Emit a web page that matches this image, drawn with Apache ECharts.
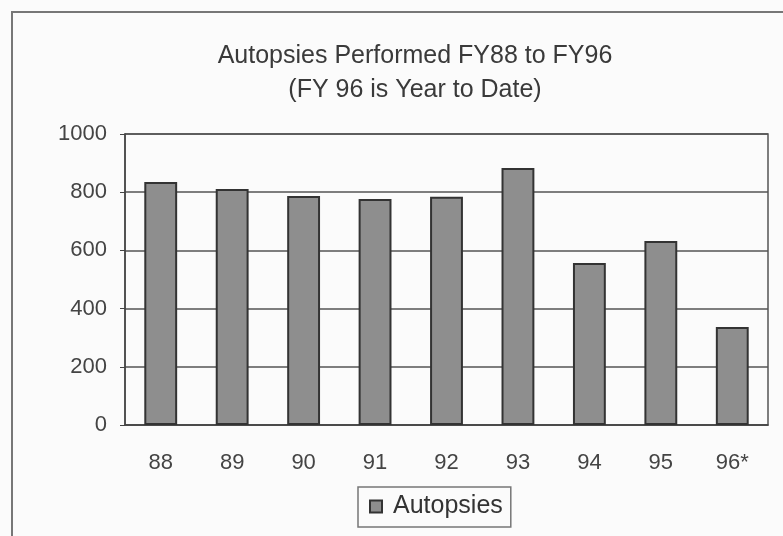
<!DOCTYPE html>
<html>
<head>
<meta charset="utf-8">
<script src="https://cdn.jsdelivr.net/npm/echarts@6/dist/echarts.min.js"></script>
<style>
  html, body { margin: 0; padding: 0; background: #fbfbfb; }
  #main { width: 783px; height: 536px; }
</style>
</head>
<body>
<div id="main"></div>
<script>
const years = ["88", "89", "90", "91", "92", "93", "94", "95", "96*"];
const autopsies = [835, 811, 787, 777, 784, 883, 557, 632, 337];
const yTicks = [0, 200, 400, 600, 800, 1000];

const chart = echarts.init(document.getElementById("main"));
const font = "'Liberation Sans', Arial, sans-serif";

const option = {
  backgroundColor: "#fbfbfb",
  animation: false,
  title: {
    text: "Autopsies Performed FY88 to FY96\n(FY 96 is Year to Date)",
    left: 410,
    top: 34,
    textAlign: "center",
    textStyle: {
      fontFamily: font,
      fontSize: 25,
      fontWeight: "normal",
      color: "#3a3a3a",
      lineHeight: 34,
    },
  },
  // 外框
  graphic: [
    {
      type: "rect",
      shape: { x: 12, y: 12, width: 790, height: 540 },
      style: { fill: "none", stroke: "#777", lineWidth: 2 },
      silent: true,
    },
  ],
  legend: {
    data: ["Autopsies"],
    left: 358,
    top: 487,
    icon: "rect",
    itemWidth: 12,
    itemHeight: 12,
    padding: [7, 8, 8, 11],
    borderColor: "#777",
    borderWidth: 1.5,
    textStyle: { fontFamily: font, fontSize: 25, color: "#333", padding: [0, 0, 0, 6] },
  },
  grid: {
    left: 125,
    right: 15,
    top: 134,
    bottom: 111,
    show: true,
    borderColor: "#555",
    borderWidth: 1.5,
  },
  xAxis: {
    type: "category",
    data: years,
    axisLine: { lineStyle: { color: "#444", width: 1.5 } },
    axisTick: { show: false },
    axisLabel: { fontFamily: font, fontSize: 22, color: "#444", margin: 27 },
  },
  yAxis: {
    type: "value",
    min: 0,
    max: yTicks[yTicks.length - 1],
    interval: 200,
    axisLine: { show: true, lineStyle: { color: "#444", width: 1.5 } },
    axisTick: { show: true, length: 5, lineStyle: { color: "#444" } },
    axisLabel: {
      fontFamily: font,
      fontSize: 22,
      color: "#444",
      margin: 18,
      formatter: (v) => String(v),
    },
    splitLine: { lineStyle: { color: "#555", width: 1.5 } },
  },
  series: [
    {
      name: "Autopsies",
      type: "bar",
      data: autopsies,
      barWidth: "46%",
      itemStyle: {
        color: "#8e8e8e",
        borderColor: "#333",
        borderWidth: 2,
      },
    },
  ],
};
chart.setOption(option);
</script>
</body>
</html>
